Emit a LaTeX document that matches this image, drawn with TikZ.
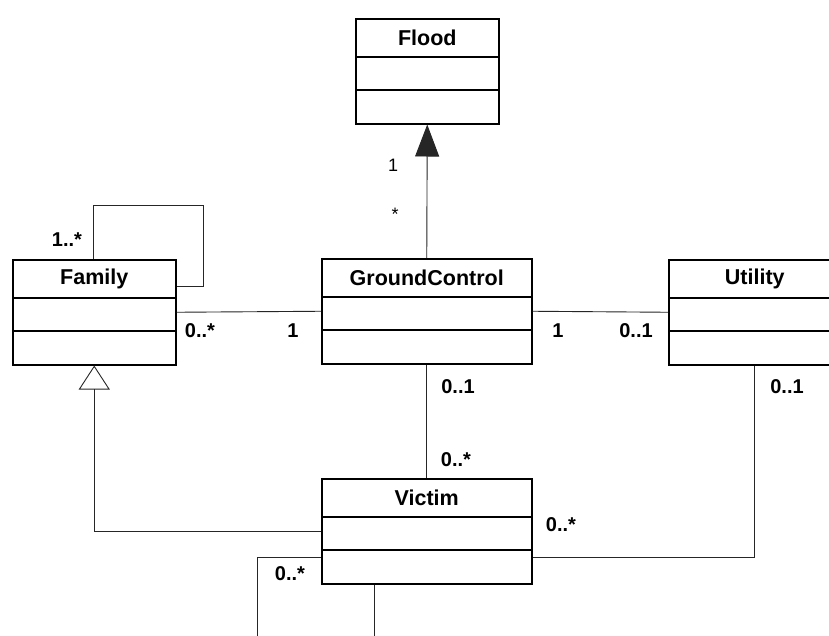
\documentclass[tikz,border=0pt]{standalone}
\usepackage{fontspec}
\setmainfont{Liberation Sans}
\usetikzlibrary{arrows.meta, positioning}
\tikzset{
  classbox/.style={
    draw=black, line width=1.5pt, fill=white,
    minimum height=105, inner sep=0pt, anchor=north west,
  },
  classname/.style={font=\fontsize{21.5}{25}\selectfont\bfseries, inner sep=0pt},
  mult/.style={font=\fontsize{20}{24}\selectfont\bfseries, inner sep=0pt},
  multlight/.style={font=\fontsize{18}{22}\selectfont, inner sep=0pt},
  assoc/.style={draw=black!85, line width=0.9pt},
  inherit/.style={assoc, -{Triangle[open, length=24pt, width=31pt, line width=0.9pt]}},
  compose/.style={assoc, -{Triangle[length=32pt, width=24pt]}},
}

\begin{document}
\begin{tikzpicture}[x=1pt, y=-1pt]

  \clip (0,0) rectangle (829,635);
  \fill[white] (0,0) rectangle (829,635);

  % Classes
  \foreach \id/\lx/\ty/\w/\title in {
      flood/355/18/143/Flood,
      family/12/259/163/Family,
      gc/321/258/210/GroundControl,
      utility/668/259/172/Utility,
      victim/321/478/210/Victim} {
    \node[classbox, minimum width=\w] (\id) at (\lx,\ty) {};
    \node[classname] (\id-title) at ([yshift=-19.5pt]\id.north) {\title};
    \draw[line width=1.5pt] ([yshift=-39pt]\id.north west) -- ([yshift=-39pt]\id.north east);
    \draw[line width=1.5pt] ([yshift=-72pt]\id.north west) -- ([yshift=-72pt]\id.north east);
  }

  % GroundControl -> Flood
  \draw[compose] (gc.north) -- (flood.south);
  \node[multlight] (m-flood-a) at (393,165) {1};
  \node[multlight] (m-flood-b) at (395,214) {*};

  % Family self association
  \draw[assoc] ([xshift=81pt]family.north west) |- (203,205)
    |- ([yshift=-27pt]family.north east);
  \node[mult] (m-fam-self) at (67,240) {1..*};

  % Family -- GroundControl
  \draw[assoc] (family.east) -- (gc.west);
  \node[mult] (m-fam-gc) at (200,331) {0..*};
  \node[mult] (m-gc-fam) at (293,331) {1};

  % GroundControl -- Utility
  \draw[assoc] (gc.east) -- (utility.west);
  \node[mult] (m-gc-ut) at (558,331) {1};
  \node[mult] (m-ut-gc) at (636,331) {0..1};

  % GroundControl -- Victim
  \draw[assoc] (gc.south) -- (victim.north);
  \node[mult] (m-gc-vic) at (458,387) {0..1};
  \node[mult] (m-vic-gc) at (456,460) {0..*};

  % Utility -- Victim
  \draw[assoc] (utility.south) |- ([yshift=-26pt]victim.east);
  \node[mult] (m-ut-vic) at (787,387) {0..1};
  \node[mult] (m-vic-ut) at (561,525) {0..*};

  % Victim inherits Family
  \draw[inherit] (victim.west) -| (family.south);

  % Victim self association
  \draw[assoc] ([yshift=-26pt]victim.west) -| (257,660)
    -| ([xshift=-52pt]victim.south);
  \node[mult] (m-vic-self) at (290,574) {0..*};

\end{tikzpicture}
\end{document}
